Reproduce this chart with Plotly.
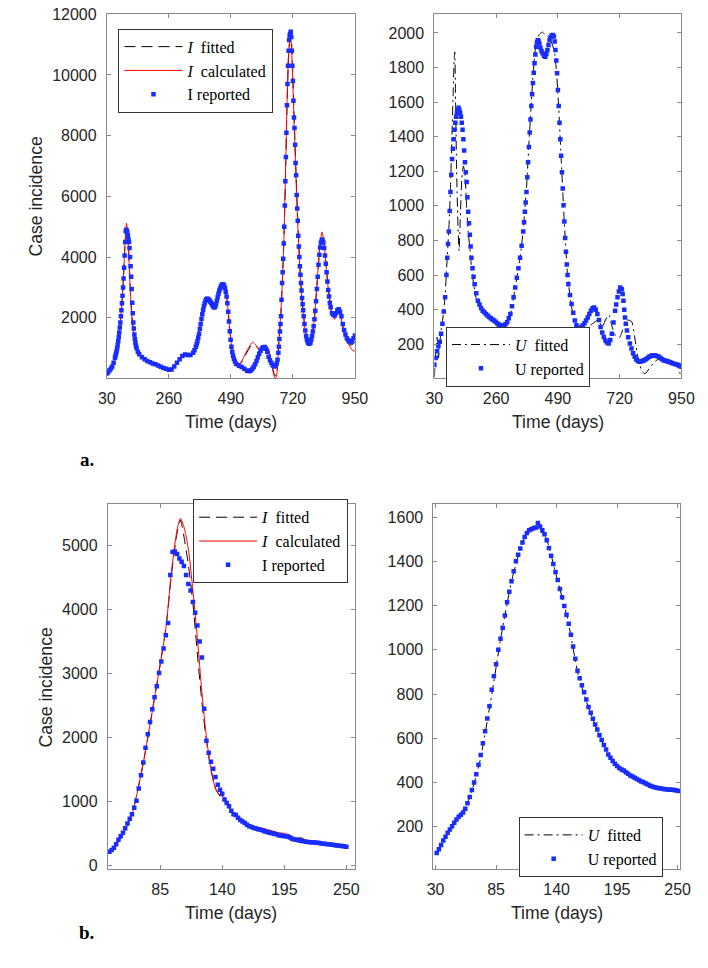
import plotly.graph_objects as go

# ---------------- DATA ----------------
# (a) left: I  (days 30-950)
a_I_rep_day = [30,35,40,45,50,55,60,62,64,66,68,70,72,74,76,78,80,82,84,86,88,90,92,94,96,98,100,102,104,106,108,110,112,114,116,118,120,122,124,126,128,130,132,134,136,138,140,145,150,160,170,180,190,200,210,220,230,240,250,260,270,280,290,300,310,320,330,340,350,355,
               360,363,366,369,372,375,378,381,384,387,390,393,396,399,402,405,408,411,414,417,420,423,426,429,432,435,438,441,444,447,450,453,456,459,462,465,468,471,474,477,480,483,486,489,492,495,498,501,505,510,520,530,540,550,555,
               560,565,570,575,580,585,590,595,600,605,610,615,620,625,630,635,640,645,650,655,660,663,666,668,670,672,674,676,678,680,682,684,686,688,690,692,694,696,698,700,702,704,706,708,710,712,714,716,718,720,722,724,726,728,730,732,734,736,738,740,742,744,746,748,750,752,754,756,758,760,763,766,769,772,775,778,781,
               785,788,791,794,797,800,803,806,809,812,815,818,821,824,827,830,833,836,839,842,845,848,851,854,857,860,865,870,875,880,885,890,895,900,905,910,915,920,925,930,935,940,945,950]
a_I_rep = [170,210,270,330,400,520,680,750,820,900,1000,1100,1230,1370,1520,1680,1850,2050,2250,2480,2730,3000,3300,3650,4050,4500,4850,4900,4870,4800,4700,4580,4500,4300,4000,3700,3350,2950,2500,2150,1850,1650,1450,1300,1180,1080,1000,880,800,700,640,580,540,500,470,430,390,350,320,290,300,400,520,640,740,790,780,780,850,930,
           1050,1130,1230,1350,1480,1640,1800,1960,2120,2260,2380,2480,2560,2610,2630,2620,2600,2570,2530,2490,2450,2400,2360,2340,2370,2450,2560,2680,2790,2890,2970,3030,3080,3100,3100,3060,2980,2860,2700,2480,2200,1880,1560,1280,1050,880,750,650,560,480,420,380,320,260,250,
           250,270,320,390,470,580,700,820,920,990,1030,1040,980,880,720,600,520,440,400,420,500,620,850,1050,1300,1550,1800,2050,2600,3150,3500,3950,4450,5000,5700,6500,7300,8100,9000,9700,10300,10800,11150,11300,11350,11420,11250,10800,10300,9800,9150,8600,8250,7700,7100,6700,6050,5600,5200,4700,4350,4000,3700,3420,3150,2900,2650,2450,2250,2050,1800,1580,1400,1280,1200,1160,1150,
           1180,1280,1400,1550,1720,1950,2230,2550,2950,3350,3750,4080,4320,4480,4560,4570,4480,4300,4050,3780,3500,3200,2920,2700,2500,2350,2150,2100,2080,2150,2250,2280,2200,2050,1800,1600,1450,1330,1260,1220,1200,1250,1330,1420]

a_I_calc_day = [30,40,50,60,70,80,90,97,103,108,113,118,123,128,135,145,160,180,200,220,240,260,280,300,320,340,360,380,400,420,430,450,462,475,485,495,505,515,525,540,555,570,585,598,610,620,628,638,646,652,658,664,668,675,680,686,692,698,704,710,714,718,724,730,736,742,750,760,770,780,790,800,810,820,828,835,845,855,865,875,885,895,905,915,925,935,945,950]
a_I_calc = [150,250,400,650,1100,1850,3050,4400,5120,4700,3700,2700,2000,1600,1200,880,700,580,500,430,350,290,400,640,790,780,1050,1900,2620,2450,2350,2950,3100,2650,1700,900,600,480,500,750,1000,1200,1080,950,1060,1100,1000,650,250,40,40,600,1200,2100,3000,4400,6500,9000,10700,11250,11000,10200,8500,7000,5500,4300,3000,2000,1350,1200,1400,2000,3200,4400,4830,4500,3500,2650,2100,1950,2200,2100,1700,1350,1150,1000,900,950]

a_I_fit_day = [30,40,50,60,70,80,90,97,103,108,113,118,123,128,135,145,160,180,200,220,240,260,280,300,320,340,360,380,400,420,430,450,462,475,485,495,505,515,525,540,555,570,585,598,610,620,628,638,646,652,658,664,668,675,680,686,692,698,704,710,714,718,724,730,736,742,750,760,770,780,790,800,810,820,828,835,845,855,865,877,885,895,905,915,925,935,945,950]
a_I_fit = [150,250,400,650,1100,1850,3050,4350,4950,4650,3800,2800,2050,1620,1220,890,700,580,500,430,350,290,400,640,790,780,1050,1900,2620,2450,2350,2950,3100,2650,1700,900,600,480,480,700,950,1130,1050,930,1020,1060,980,650,300,120,100,600,1200,2100,3000,4400,6400,8900,10600,11250,11150,10500,8800,7200,5700,4400,3100,2050,1380,1200,1400,2000,3150,4300,4650,4450,3550,2700,2150,1970,2150,2120,1750,1400,1200,1100,1150,1200]

# (a) right: U
a_U_rep_day = [30,35,40,45,50,55,60,65,70,75,78,81,84,87,90,93,96,99,102,105,108,111,114,117,120,123,126,129,132,135,138,141,144,147,150,153,156,159,162,165,168,172,176,180,186,192,198,204,210,216,222,228,234,240,246,252,258,264,270,276,282,289,295,301,307,313,319,325,331,337,343,349,355,361,364,367,370,373,376,379,382,385,388,391,394,397,400,403,406,409,412,415,418,421,425,429,433,438,443,447,451,455,459,463,467,471,475,478,481,484,487,490,493,496,499,502,505,508,511,514,517,520,523,526,529,535,541,547,553,559,565,571,577,583,589,595,601,607,613,619,625,631,637,643,649,655,661,667,673,679,685,691,697,703,707,712,717,722,728,731,734,737,740,743,747,752,758,764,770,776,782,788,794,800,806,812,818,824,830,836,842,848,854,860,866,872,878,884,890,896,902,908,914,920,926,932,938,944,950]
a_U_rep = [80,120,160,190,215,260,318,390,471,600,700,780,852,970,1081,1180,1271,1330,1386,1440,1481,1515,1538,1555,1567,1555,1538,1515,1481,1440,1386,1320,1252,1195,1138,1050,966,900,833,765,700,640,590,547,495,451,430,410,394,385,375,366,358,350,343,337,330,322,314,310,308,308,315,327,350,375,420,471,528,585,640,700,770,852,905,966,1020,1081,1165,1252,1340,1424,1500,1577,1645,1710,1770,1825,1875,1920,1945,1958,1955,1939,1915,1895,1882,1868,1863,1878,1901,1930,1958,1975,1985,1988,1980,1950,1901,1840,1767,1670,1577,1480,1386,1290,1195,1100,1004,910,814,735,661,600,547,485,432,382,337,310,289,290,299,310,322,337,355,375,394,408,413,400,375,340,299,268,242,222,210,204,225,261,325,394,430,471,505,528,518,490,451,400,355,318,280,240,204,175,148,127,112,103,99,100,104,108,113,120,127,132,136,137,135,131,127,120,113,108,104,101,99,96,92,89,86,83,80,75,70]

a_U_fit_day = [30,35,40,45,50,55,60,65,70,75,80,85,90,95,100,104,106,109,113,118,122,126,132,138,143,150,156,162,168,175,185,195,205,215,225,240,255,270,285,300,313,325,337,349,361,367,373,379,385,391,397,403,410,420,432,442,452,462,470,478,484,490,496,502,508,514,520,526,535,545,555,565,580,600,620,640,655,667,680,692,705,720,735,750,765,775,785,795,805,815,830,845,860,875,890,905,920,935,945,950]
a_U_fit = [10,150,240,120,200,280,330,400,480,620,760,900,1100,1380,1650,1850,1890,1600,1200,880,740,900,1150,1230,1200,1000,850,760,650,560,470,420,410,400,370,340,320,300,300,320,370,470,585,700,860,980,1100,1270,1440,1600,1740,1860,1950,1990,2005,1990,1980,1960,1930,1880,1790,1650,1470,1280,1090,900,740,600,480,380,320,290,280,300,320,340,300,340,370,300,250,240,300,340,330,250,150,80,40,30,60,90,110,115,120,110,100,70,30,10]

# (b) left: I (days 40-250)
b_I_rep_day = list(range(40, 251, 2))
b_I_rep = [211,240,275,330,400,455,510,580,655,730,800,900,1010,1200,1410,1610,1840,2050,2240,2440,2630,2800,3010,3190,3390,3600,3790,4540,4900,4910,4870,4800,4750,4680,4540,4400,4300,4120,3950,3750,3500,3250,2450,1950,1760,1620,1510,1380,1260,1180,1120,1030,975,925,855,800,785,745,710,685,660,635,610,600,585,575,565,555,545,530,520,510,500,495,485,470,465,460,455,450,435,415,405,400,390,385,375,370,365,362,360,357,353,348,342,336,332,328,325,320,315,310,305,302,298,292]

b_I_calc_day = [40,50,60,70,80,90,95,100,103,106,110,114,118,122,126,130,134,138,142,146,150,160,170,180,190,195,200,205,210,212,215,225,235,245,250]
b_I_calc = [200,420,800,1600,2620,3700,4600,5250,5430,5300,4950,4300,3550,2700,2000,1500,1200,1100,1060,920,800,660,600,560,510,500,470,420,420,410,370,360,340,310,300]

b_I_fit_day = [40,50,60,70,80,90,95,100,103,106,110,114,118,122,126,130,134,138,142,146,150,160,170,180,190,200,205,210,213,220,235,245,250]
b_I_fit = [200,420,800,1600,2620,3700,4550,5200,5400,5150,4700,4100,3300,2550,1950,1500,1200,1080,1000,900,800,660,590,545,500,450,420,430,400,370,340,310,295]

# (b) right: U (days 31-251)
b_U_rep_day = list(range(31, 252, 2))
b_U_rep = [81,99,118,138,155,173,188,203,218,233,245,254,265,282,306,335,366,400,438,480,525,578,632,690,745,820,880,935,1000,1050,1100,1155,1215,1262,1310,1355,1400,1430,1458,1485,1510,1528,1540,1545,1549,1553,1573,1557,1540,1522,1495,1460,1425,1388,1352,1315,1275,1238,1198,1158,1118,1068,1015,960,905,872,840,808,775,742,716,688,662,640,614,592,570,549,527,512,497,485,475,466,459,454,447,440,432,427,422,416,410,405,401,396,391,386,382,379,376,374,373,371,370,369,368,367,366,364,362]

b_U_fit_day = [31,40,50,60,70,80,90,100,110,116,120,124,130,140,150,160,170,180,190,200,220,240,251]
b_U_fit = [80,165,240,320,490,765,1075,1330,1500,1550,1555,1540,1510,1330,1140,880,725,600,500,455,398,372,362]

x_ticks_a = [30, 260, 490, 720, 950]
y_ticks_aI = [2000, 4000, 6000, 8000, 10000, 12000]
y_ticks_aU = [200, 400, 600, 800, 1000, 1200, 1400, 1600, 1800, 2000]
x_ticks_bI = [85, 140, 195, 250]
x_ticks_bU = [30, 85, 140, 195, 250]
y_ticks_bI = [0, 1000, 2000, 3000, 4000, 5000]
y_ticks_bU = [200, 400, 600, 800, 1000, 1200, 1400, 1600]

# ---------------- STYLE ----------------
W, H = 708, 968
BLUE = "rgb(25,45,255)"
SANS = "Liberation Sans"
SERIF = "Liberation Serif"
DASH = "11px,6px"
DASHDOT = "9px,4px,2px,4px"

fig = go.Figure()

def add_panel(n, fit_d, fit_v, rep_d, rep_v, calc_d=None, calc_v=None, sym="I", fitdash=DASH, legend="legend"):
    xa = "x" if n == 1 else f"x{n}"
    ya = "y" if n == 1 else f"y{n}"
    fig.add_trace(go.Scatter(x=fit_d, y=fit_v, mode="lines", xaxis=xa, yaxis=ya,
                             line=dict(color="black", width=1, dash=fitdash, shape="spline", smoothing=0.6),
                             name=f"<i>{sym}</i>  fitted", legend=legend))
    if calc_d is not None:
        fig.add_trace(go.Scatter(x=calc_d, y=calc_v, mode="lines", xaxis=xa, yaxis=ya,
                                 line=dict(color="red", width=1, shape="spline", smoothing=0.6),
                                 name=f"<i>{sym}</i>  calculated", legend=legend))
    fig.add_trace(go.Scatter(x=rep_d, y=rep_v, mode="markers", xaxis=xa, yaxis=ya,
                             marker=dict(symbol="square", size=4.5, color=BLUE, line=dict(width=0)),
                             name=f"{sym} reported", legend=legend))

add_panel(1, a_I_fit_day, a_I_fit, a_I_rep_day, a_I_rep, a_I_calc_day, a_I_calc, "I", DASH, "legend")
add_panel(2, a_U_fit_day, a_U_fit, a_U_rep_day, a_U_rep, None, None, "U", DASHDOT, "legend2")
add_panel(3, b_I_fit_day, b_I_fit, b_I_rep_day, b_I_rep, b_I_calc_day, b_I_calc, "I", DASH, "legend3")
add_panel(4, b_U_fit_day, b_U_fit, b_U_rep_day, b_U_rep, None, None, "U", DASHDOT, "legend4")

def px_x(p): return p / W
def px_y(p): return 1 - p / H

axis_common = dict(showline=True, linecolor="#8a8a8a", linewidth=1, mirror="ticks",
                   ticks="inside", ticklen=4, tickcolor="#8a8a8a", showgrid=False, zeroline=False,
                   tickfont=dict(family=SANS, size=16, color="#262626"), fixedrange=True,
                   ticklabeloverflow="allow")

panels = {
    1: dict(x=(101, 357), y=(6, 375), xr=[30, 950], yr=[20, 12010], xt=x_ticks_a, yt=y_ticks_aI),
    2: dict(x=(439, 694), y=(6, 375), xr=[30, 950], yr=[5, 2110], xt=x_ticks_a, yt=y_ticks_aU),
    3: dict(x=(102, 357), y=(503, 873), xr=[38.6, 257.6], yr=[-62, 5648], xt=x_ticks_bI, yt=y_ticks_bI),
    4: dict(x=(438, 693), y=(503, 873), xr=[28, 252.6], yr=[8, 1658], xt=x_ticks_bU, yt=y_ticks_bU),
}
lay = {}
for n, p in panels.items():
    xk = "xaxis" if n == 1 else f"xaxis{n}"
    yk = "yaxis" if n == 1 else f"yaxis{n}"
    ya = "y" if n == 1 else f"y{n}"
    xa = "x" if n == 1 else f"x{n}"
    lay[xk] = dict(axis_common, domain=[px_x(p["x"][0]), px_x(p["x"][1])], range=p["xr"],
                   tickvals=p["xt"], ticktext=[str(v) for v in p["xt"]], anchor=ya, ticklabelstandoff=6)
    lay[yk] = dict(axis_common, domain=[px_y(p["y"][1]), px_y(p["y"][0])], range=p["yr"],
                   tickvals=p["yt"], ticktext=[str(v) for v in p["yt"]], anchor=xa, ticklabelstandoff=6)

leg_common = dict(font=dict(family=SERIF, size=16, color="black"), bgcolor="white",
                  bordercolor="#333333", borderwidth=1, xanchor="left", yanchor="top",
                  itemwidth=58, tracegroupgap=0, itemclick=False, itemdoubleclick=False)
lay["legend"] = dict(leg_common, x=px_x(113), y=px_y(21))
lay["legend2"] = dict(leg_common, x=px_x(451), y=px_y(323))
lay["legend3"] = dict(leg_common, x=px_x(190), y=px_y(498))
lay["legend4"] = dict(leg_common, x=px_x(526), y=px_y(820))

ann = []
lab_font = dict(family=SANS, size=17.6, color="#262626")
for cx, cy in [(229, 420), (566.5, 420), (229.5, 917), (565.5, 917)]:
    ann.append(dict(text="Time (days)", x=px_x(cx), y=px_y(cy), xref="paper", yref="paper",
                    showarrow=False, xanchor="center", yanchor="middle", font=lab_font))
for cx, cy in [(28, 191), (38, 689)]:
    ann.append(dict(text="Case incidence", x=px_x(cx), y=px_y(cy), xref="paper", yref="paper",
                    showarrow=False, xanchor="center", yanchor="middle", textangle=-90, font=lab_font))
for t, cy in [("a.", 458), ("b.", 937)]:
    ann.append(dict(text=f"<b>{t}</b>", x=px_x(80), y=px_y(cy), xref="paper", yref="paper",
                    showarrow=False, xanchor="center", yanchor="middle",
                    font=dict(family=SERIF, size=19, color="black")))

fig.update_layout(width=W, height=H, autosize=False, margin=dict(l=0, r=0, t=0, b=0),
                  paper_bgcolor="white", plot_bgcolor="white", showlegend=True,
                  annotations=ann, **lay)

fig.write_html("out.html", config={"displayModeBar": False})
